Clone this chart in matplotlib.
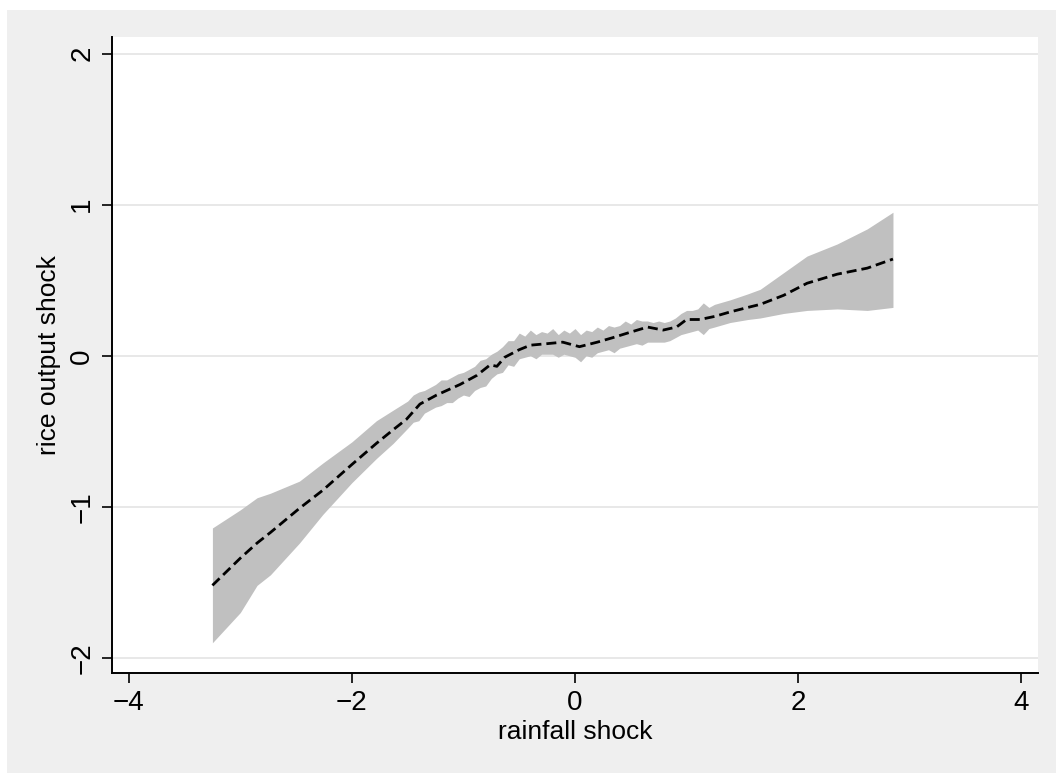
import matplotlib
matplotlib.use("Agg")
import matplotlib.pyplot as plt
from matplotlib.patches import Rectangle

plt.rcParams["font.family"] = ["Liberation Sans", "DejaVu Sans"]

############################################################
# Data
############################################################

# fitted line
rain = [-3.25, -3.0, -2.85, -2.73, -2.47, -2.26, -2.0, -1.78, -1.63, -1.51,
        -1.39, -1.24, -1.03, -0.88, -0.76, -0.7, -0.63, -0.5, -0.4, -0.25,
        -0.11, 0.04, 0.2, 0.34, 0.47, 0.65, 0.79, 0.91, 1.0, 1.12,
        1.25, 1.39, 1.55, 1.66, 1.87, 2.08, 2.35, 2.62, 2.85]

fit = [-1.52, -1.34, -1.24, -1.17, -1.01, -0.89, -0.72, -0.58, -0.49, -0.42,
       -0.32, -0.26, -0.19, -0.13, -0.06, -0.07, -0.01, 0.04, 0.07, 0.08,
       0.09, 0.06, 0.09, 0.12, 0.15, 0.19, 0.17, 0.19, 0.24, 0.24,
       0.26, 0.29, 0.32, 0.34, 0.40, 0.48, 0.54, 0.58, 0.64]

# confidence band (denser in the middle where the edge is ragged)
band_x = [-3.25, -3.0, -2.85, -2.73, -2.47, -2.26, -2.0, -1.78, -1.63,
          -1.50, -1.45, -1.40, -1.35, -1.30, -1.25, -1.20, -1.15, -1.10, -1.05,
          -1.00, -0.95, -0.90, -0.85, -0.80, -0.75, -0.70, -0.65, -0.60, -0.55,
          -0.50, -0.45, -0.40, -0.35, -0.30, -0.25, -0.20, -0.15, -0.10, -0.05,
          0.00, 0.05, 0.10, 0.15, 0.20, 0.25, 0.30, 0.35, 0.40, 0.45,
          0.50, 0.55, 0.60, 0.65, 0.70, 0.75, 0.80, 0.85, 0.90, 0.95,
          1.00, 1.05, 1.10, 1.15, 1.20,
          1.25, 1.39, 1.55, 1.66, 1.87, 2.08, 2.35, 2.62, 2.85]

upper = [-1.14, -1.02, -0.94, -0.91, -0.83, -0.71, -0.57, -0.43, -0.36,
         -0.30, -0.26, -0.24, -0.23, -0.21, -0.19, -0.16, -0.16, -0.14, -0.12,
         -0.11, -0.09, -0.07, -0.03, -0.02, 0.01, 0.03, 0.06, 0.10, 0.10,
         0.15, 0.13, 0.17, 0.14, 0.16, 0.15, 0.18, 0.14, 0.17, 0.15,
         0.18, 0.14, 0.17, 0.16, 0.19, 0.17, 0.20, 0.19, 0.20, 0.23,
         0.21, 0.24, 0.23, 0.23, 0.22, 0.23, 0.22, 0.23, 0.25, 0.28,
         0.30, 0.30, 0.31, 0.35, 0.32,
         0.34, 0.37, 0.41, 0.44, 0.55, 0.66, 0.74, 0.84, 0.95]

lower = [-1.90, -1.70, -1.52, -1.45, -1.24, -1.05, -0.84, -0.68, -0.58,
         -0.48, -0.44, -0.43, -0.38, -0.36, -0.34, -0.33, -0.31, -0.31, -0.28,
         -0.26, -0.27, -0.23, -0.21, -0.20, -0.15, -0.12, -0.11, -0.06, -0.07,
         -0.02, -0.01, 0.00, -0.02, 0.01, 0.01, 0.01, -0.01, 0.01, 0.00,
         -0.01, -0.04, 0.00, -0.01, 0.02, 0.03, 0.04, 0.02, 0.05, 0.06,
         0.07, 0.08, 0.07, 0.09, 0.09, 0.09, 0.09, 0.10, 0.12, 0.14,
         0.15, 0.16, 0.17, 0.14, 0.18,
         0.19, 0.22, 0.24, 0.25, 0.28, 0.30, 0.31, 0.30, 0.32]

xticks = [-4, -2, 0, 2, 4]
yticks = [-2, -1, 0, 1, 2]

############################################################
# Figure
############################################################

fig = plt.figure(figsize=(10.56, 7.73), dpi=100, facecolor="#EFEFEF")

# thin white strips on the left and top edges
fig.patches.append(Rectangle((0, 0), 7 / 1056, 1, transform=fig.transFigure,
                             facecolor="white", edgecolor="none", zorder=-10))
fig.patches.append(Rectangle((0, 1 - 10 / 773), 1, 10 / 773,
                             transform=fig.transFigure,
                             facecolor="white", edgecolor="none", zorder=-10))

ax = fig.add_axes([112 / 1056, 1 - 673 / 773,
                   (1038 - 112) / 1056, (673 - 37) / 773])
ax.set_facecolor("white")

ax.fill_between(band_x, lower, upper, color="#C0C0C0", linewidth=0, zorder=2)
ax.plot(rain, fit, color="black", linewidth=2.0, dashes=(3.6, 1.8), zorder=3)

ax.set_xlim(-4.15, 4.15)
ax.set_ylim(-2.10, 2.11)

ax.set_xticks(xticks)
ax.set_yticks(yticks)
ax.set_xticklabels([str(t).replace("-", "\u2212") for t in xticks])
ax.set_yticklabels([str(t).replace("-", "\u2212") for t in yticks],
                   rotation=90, va="center")

ax.grid(axis="y", color="#E6E6E6", linewidth=1.3, zorder=0)
ax.set_axisbelow(True)

for side in ["top", "right"]:
    ax.spines[side].set_visible(False)
for side in ["left", "bottom"]:
    ax.spines[side].set_linewidth(1.4)

ax.tick_params(axis="both", length=7, width=1.2, labelsize=20, pad=5)

ax.set_xlabel("rainfall shock", fontsize=19, labelpad=3)
ax.set_ylabel("rice output shock", fontsize=19, labelpad=6)

fig.savefig("out.png", dpi=100, facecolor=fig.get_facecolor())
